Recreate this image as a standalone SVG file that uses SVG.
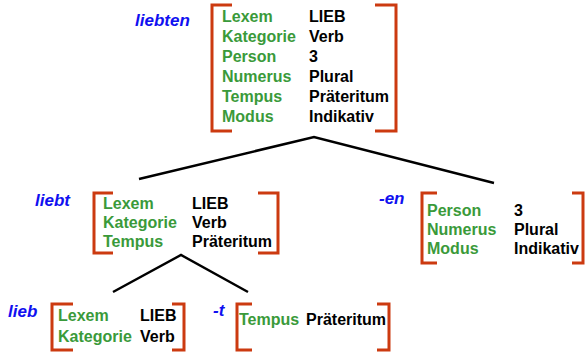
<svg xmlns="http://www.w3.org/2000/svg" width="585" height="354" viewBox="0 0 585 354">
<style>
text{font-family:"Liberation Sans",Arial,sans-serif;font-weight:bold;font-size:16px}
.k{fill:#3a9a3a}
.v{fill:#000}
.w{fill:#1010f0;font-style:italic;font-size:17px}
.b{fill:none;stroke:#cc3a10;stroke-width:3}
.e{fill:none;stroke:#000;stroke-width:2.5}
</style>
<rect width="585" height="354" fill="#fff"/>
<g id="connectors">
<path class="e" d="M139,179 L314,137 L494,183"/>
<path class="e" d="M113,292 L181,255 L248,292"/>
</g>
<g id="liebten">
<text class="w" x="135" y="26">liebten</text>
<path class="b" d="M232,5 H212 V131 H232 M375,5 H396 V131 H375"/>
<text class="k" x="222" y="22">Lexem</text><text class="v" x="309" y="22">LIEB</text>
<text class="k" x="222" y="42">Kategorie</text><text class="v" x="309" y="42">Verb</text>
<text class="k" x="222" y="62">Person</text><text class="v" x="309" y="62">3</text>
<text class="k" x="222" y="82">Numerus</text><text class="v" x="309" y="82">Plural</text>
<text class="k" x="222" y="102">Tempus</text><text class="v" x="309" y="102">Präteritum</text>
<text class="k" x="222" y="122">Modus</text><text class="v" x="309" y="122">Indikativ</text>
</g>
<g id="liebt">
<text class="w" x="35" y="206">liebt</text>
<path class="b" d="M113,193 H94 V253 H113 M258,193 H278 V253 H258"/>
<text class="k" x="103" y="209">Lexem</text><text class="v" x="192" y="209">LIEB</text>
<text class="k" x="103" y="228">Kategorie</text><text class="v" x="192" y="228">Verb</text>
<text class="k" x="103" y="247">Tempus</text><text class="v" x="192" y="247">Präteritum</text>
</g>
<g id="en">
<text class="w" x="379" y="204">-en</text>
<path class="b" d="M437,193 H422 V263 H437 M572,193 H583 V263 H572"/>
<text class="k" x="427" y="216">Person</text><text class="v" x="514" y="216">3</text>
<text class="k" x="427" y="235">Numerus</text><text class="v" x="514" y="235">Plural</text>
<text class="k" x="427" y="254">Modus</text><text class="v" x="514" y="254">Indikativ</text>
</g>
<g id="lieb">
<text class="w" x="8" y="317">lieb</text>
<path class="b" d="M73,304 H52 V350 H73 M172,304 H184 V350 H172"/>
<text class="k" x="58" y="321">Lexem</text><text class="v" x="140" y="321">LIEB</text>
<text class="k" x="58" y="342">Kategorie</text><text class="v" x="140" y="342">Verb</text>
</g>
<g id="t">
<text class="w" x="213" y="316">-t</text>
<path class="b" d="M252,304 H237 V350 H252 M377,304 H389 V350 H377"/>
<text class="k" x="239" y="325">Tempus</text><text class="v" x="306" y="325">Präteritum</text>
</g>
</svg>
